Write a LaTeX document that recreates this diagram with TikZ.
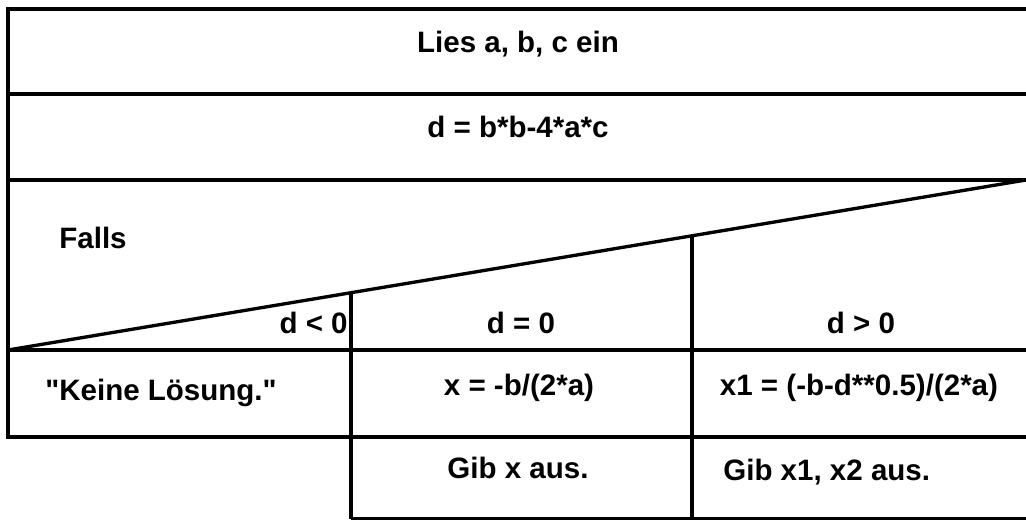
\documentclass[tikz,border=0pt]{standalone}
\usepackage{fontspec}
\setmainfont{Liberation Sans}
\usetikzlibrary{positioning}

\begin{document}
\begin{tikzpicture}[
    x=0.02cm, y=-0.02cm,
    rule/.style={line width=1.9pt},
    txt/.style={font=\fontsize{16.8}{20}\selectfont\bfseries, inner sep=0pt, anchor=base},
]
    \useasboundingbox (0,0) rectangle (1026,520);

    % frame and sequence rows
    \draw[rule] (1026,9) -- (8,9) -- (8,437) -- (1026,437);
    \draw[rule] (8,94) -- (1026,94);
    \draw[rule] (8,180) -- (1026,180);
    \draw[rule] (8,350) -- (1026,350);

    % condition triangle
    \draw[rule] (8,350) -- (1026,180);
    \draw[rule] (351,292.7) -- (351,519);
    \draw[rule] (692,235.8) -- (692,519);
    \draw[rule] (351,518.5) -- (1026,518.5);

    \node[txt] (lies) at (518,53) {Lies a, b, c ein};
    \node[txt] (disc) at (518,138) {d = b*b-4*a*c};
    \node[txt, anchor=base west] (falls) at (59,248) {Falls};

    \node[txt, anchor=base east] (neg) at (348,333) {d < 0};
    \node[txt] (zero) at (521,333) {d = 0};
    \node[txt] (pos) at (861,333) {d > 0};

    \node[txt, anchor=base west] (none) at (45,400) {\textquotedbl Keine Lösung.\textquotedbl};
    \node[txt] (xone) at (519,395) {x = -b/(2*a)};
    \node[txt] (xtwo) at (859,395) {x1 = (-b-d**0.5)/(2*a)};

    \node[txt] (outone) at (518,478) {Gib x aus.};
    \node[txt, anchor=base west] (outtwo) at (723,480) {Gib x1, x2 aus.};
\end{tikzpicture}
\end{document}
